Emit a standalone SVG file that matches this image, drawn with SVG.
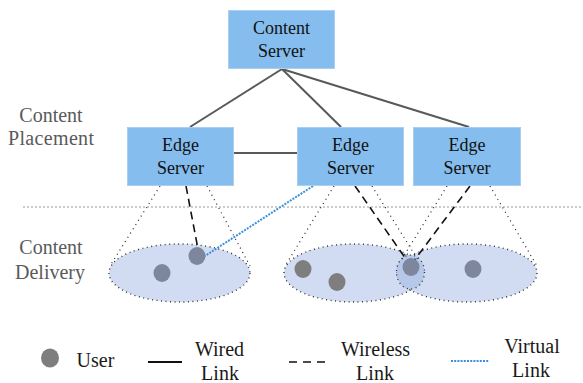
<svg xmlns="http://www.w3.org/2000/svg" width="583" height="383" viewBox="0 0 583 383">
<style>
text{font-family:'Liberation Serif','Times New Roman','DejaVu Serif',serif;font-size:18px;text-anchor:middle}
.box{fill:#84bdee;stroke:#a9cff1;stroke-width:1}
.bt{fill:#111}
.side{fill:#5a5a5a;font-size:20px}
.lg{fill:#1a1a1a;font-size:20px}
.wired{stroke:#595959;stroke-width:2;fill:none}
.wireless{stroke:#111;stroke-width:1.6;stroke-dasharray:8 5;fill:none}
.virtual{stroke:#3b8fdc;stroke-width:2;stroke-dasharray:2 1.2;fill:none}
.cone{stroke:#222;stroke-width:1.2;stroke-dasharray:1 4;fill:none}
.area{fill:#d1dcf2;stroke:#333;stroke-width:1.4;stroke-dasharray:1 3.5}
.ublue{fill:#7d869c}
.ugray{fill:#7e7e7e}
</style>
<rect width="583" height="383" fill="#ffffff"/>
<g id="coverage">
<ellipse class="area" cx="179.5" cy="273" rx="70.5" ry="29"/>
<ellipse class="area" cx="354" cy="273" rx="70" ry="29"/>
<ellipse class="area" cx="467" cy="273" rx="70" ry="29"/>
<ellipse cx="410.5" cy="272" rx="14" ry="17" fill="#b5c8ea" stroke="#333" stroke-width="1.4" stroke-dasharray="1 3.5"/>
</g>
<line x1="23" y1="207" x2="583" y2="207" stroke="#9a9a9a" stroke-width="1.2" stroke-dasharray="2 2"/>
<g id="connectors">
<line class="wired" x1="282" y1="69" x2="190" y2="127"/>
<line class="wired" x1="282" y1="69" x2="341" y2="127"/>
<line class="wired" x1="282" y1="69" x2="469" y2="127"/>
<line class="wired" x1="233" y1="153" x2="297" y2="153"/>
<line class="cone" x1="160" y1="186" x2="110" y2="266"/>
<line class="cone" x1="207" y1="186" x2="250" y2="266"/>
<line class="cone" x1="334" y1="186" x2="285" y2="266"/>
<line class="cone" x1="372" y1="186" x2="418" y2="260"/>
<line class="cone" x1="447" y1="186" x2="400" y2="262"/>
<line class="cone" x1="490" y1="186" x2="537" y2="266"/>
<line class="wireless" x1="186" y1="186" x2="198" y2="249"/>
<line class="wireless" x1="355" y1="186" x2="408" y2="262"/>
<line class="wireless" x1="470" y1="186" x2="413" y2="262"/>
<line class="virtual" x1="313" y1="186" x2="205" y2="256"/>
</g>
<g id="users">
<ellipse class="ublue" cx="162" cy="273" rx="8.5" ry="9"/>
<ellipse class="ublue" cx="197" cy="256" rx="8.5" ry="9"/>
<ellipse class="ugray" cx="303" cy="269" rx="8.5" ry="9"/>
<ellipse class="ugray" cx="337" cy="282" rx="8.5" ry="9"/>
<ellipse class="ublue" cx="411" cy="267" rx="8.5" ry="9"/>
<ellipse class="ublue" cx="473" cy="269" rx="8.5" ry="9"/>
</g>
<g id="content-server">
<rect class="box" x="228.5" y="10.5" width="106" height="58"/>
<text class="bt" x="281.5" y="34">Content</text>
<text class="bt" x="281.5" y="57">Server</text>
</g>
<g id="edge-server-1">
<rect class="box" x="127.5" y="127.5" width="106" height="58"/>
<text class="bt" x="180.5" y="151">Edge</text>
<text class="bt" x="180.5" y="174">Server</text>
</g>
<g id="edge-server-2">
<rect class="box" x="297.5" y="127.5" width="106" height="58"/>
<text class="bt" x="350.5" y="151">Edge</text>
<text class="bt" x="350.5" y="174">Server</text>
</g>
<g id="edge-server-3">
<rect class="box" x="413.5" y="127.5" width="107" height="58"/>
<text class="bt" x="467" y="151">Edge</text>
<text class="bt" x="467" y="174">Server</text>
</g>
<g id="labels">
<text class="side" x="51" y="122">Content</text>
<text class="side" x="51" y="145" textLength="86" lengthAdjust="spacing">Placement</text>
<text class="side" x="51" y="254">Content</text>
<text class="side" x="50" y="279">Delivery</text>
</g>
<g id="legend">
<ellipse class="ugray" cx="50" cy="358" rx="9" ry="9.5"/>
<text class="lg" x="95.5" y="367">User</text>
<line x1="148" y1="362" x2="182" y2="362" stroke="#111" stroke-width="2"/>
<text class="lg" x="219.5" y="356">Wired</text>
<text class="lg" x="220" y="380">Link</text>
<line x1="289" y1="362" x2="328" y2="362" stroke="#111" stroke-width="1.6" stroke-dasharray="8 6"/>
<text class="lg" x="375.5" y="356">Wireless</text>
<text class="lg" x="375" y="380">Link</text>
<line class="virtual" x1="451" y1="361" x2="489" y2="361" stroke-width="1.5"/>
<text class="lg" x="532" y="353">Virtual</text>
<text class="lg" x="531" y="377">Link</text>
</g>
</svg>
